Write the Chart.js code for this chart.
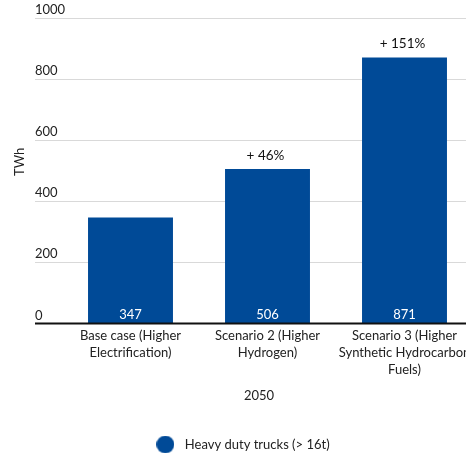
<!DOCTYPE html>
<html>
<head>
<meta charset="utf-8">
<script src="https://cdn.jsdelivr.net/npm/chart.js@4/dist/chart.umd.min.js"></script>
<style>
  html, body { margin: 0; padding: 0; background: #fff; overflow: hidden; }
  #wrap { width: 482px; height: 461px; position: relative; }
</style>
</head>
<body>
<div id="wrap"><canvas id="chart"></canvas></div>
<script>
const categories = [
  ['Base case (Higher', 'Electrification)'],
  ['Scenario 2 (Higher', 'Hydrogen)'],
  ['Scenario 3 (Higher', 'Synthetic Hydrocarbon', 'Fuels)']
];
const seriesName = 'Heavy duty trucks (> 16t)';
const values = [347, 506, 871];
const yTicks = [0, 200, 400, 600, 800, 1000];
const yearLabel = '2050';

const BLUE = '#004a97';
const TEXT = '#222';
const FONT = 'Lato, "Noto Sans", sans-serif';

// round legend marker with a bit more room before the text
function legendDot() {
  const c = document.createElement('canvas');
  c.width = 18; c.height = 18;
  const g = c.getContext('2d');
  g.fillStyle = BLUE;
  g.beginPath();
  g.arc(9, 9, 9, 0, Math.PI * 2);
  g.fill();
  return c;
}

// gridlines, tick labels, titles and bar labels
const decor = {
  id: 'decor',
  beforeDatasetsDraw(chart) {
    const { ctx, chartArea, scales } = chart;
    const y = scales.y;
    const left = 35;
    ctx.save();
    ctx.font = '13px ' + FONT;
    ctx.fillStyle = TEXT;
    ctx.textAlign = 'left';
    ctx.textBaseline = 'middle';
    yTicks.forEach(t => {
      const py = Math.round(y.getPixelForValue(t)) + 0.5;
      if (t !== 0) {
        ctx.strokeStyle = '#d9d9d9';
        ctx.lineWidth = 1;
        ctx.beginPath();
        ctx.moveTo(left, py);
        ctx.lineTo(chartArea.right + 20, py);
        ctx.stroke();
      }
      ctx.fillText(String(t), left, py - 9);
    });

    ctx.textAlign = 'center';
    ctx.fillText(yearLabel, (chartArea.left + chartArea.right) / 2 - 8.5, chartArea.bottom + 72);

    ctx.translate(20, (chartArea.top + chartArea.bottom) / 2 - 9);
    ctx.rotate(-Math.PI / 2);
    ctx.fillText('TWh', 0, 0);
    ctx.restore();
  },
  afterDatasetsDraw(chart) {
    const { ctx, chartArea, scales } = chart;
    const y0 = scales.y.getPixelForValue(0);
    ctx.save();
    ctx.strokeStyle = '#111';
    ctx.lineWidth = 2;
    ctx.beginPath();
    ctx.moveTo(35, y0);
    ctx.lineTo(chartArea.right + 20, y0);
    ctx.stroke();

    const meta = chart.getDatasetMeta(0);
    ctx.textAlign = 'center';
    ctx.textBaseline = 'middle';
    meta.data.forEach((bar, i) => {
      ctx.font = '13px ' + FONT;
      ctx.fillStyle = '#fff';
      ctx.fillText(String(values[i]), bar.x, y0 - 9);
      if (i > 0) {
        const pct = Math.round((values[i] / values[0] - 1) * 100);
        ctx.font = '13.5px ' + FONT;
        ctx.fillStyle = '#111';
        ctx.fillText('+ ' + pct + '%', bar.x - 2, bar.y - 13.5);
      }
    });
    ctx.restore();
  }
};

new Chart(document.getElementById('chart'), {
  type: 'bar',
  data: {
    labels: categories,
    datasets: [{
      label: seriesName,
      data: values,
      backgroundColor: BLUE,
      categoryPercentage: 1,
      barPercentage: 0.62
    }]
  },
  options: {
    responsive: true,
    maintainAspectRatio: false,
    animation: false,
    layout: { padding: { left: 0, right: 0, top: 18, bottom: 0 } },
    plugins: {
      legend: {
        position: 'bottom',
        labels: {
          usePointStyle: true,
          pointStyle: legendDot(),
          pointStyleWidth: 26,
          color: TEXT,
          font: { family: FONT, size: 13 },
          padding: 10
        }
      },
      tooltip: { enabled: false }
    },
    scales: {
      x: {
        grid: { display: false, drawTicks: false },
        border: { display: false },
        ticks: {
          color: TEXT,
          font: { family: FONT, size: 13, lineHeight: 1.3 },
          maxRotation: 0,
          autoSkip: false,
          padding: 4
        },
        afterFit(scale) { scale.height = 104.4; }
      },
      y: {
        min: 0,
        max: 1000,
        grid: { display: false, drawTicks: false },
        border: { display: false },
        ticks: { display: false },
        afterFit(scale) { scale.width = 62; }
      },
      yRight: {
        type: 'linear',
        position: 'right',
        grid: { display: false, drawTicks: false },
        border: { display: false },
        ticks: { display: false },
        afterFit(scale) { scale.width = 9; }
      }
    }
  },
  plugins: [decor]
});
</script>
</body>
</html>
